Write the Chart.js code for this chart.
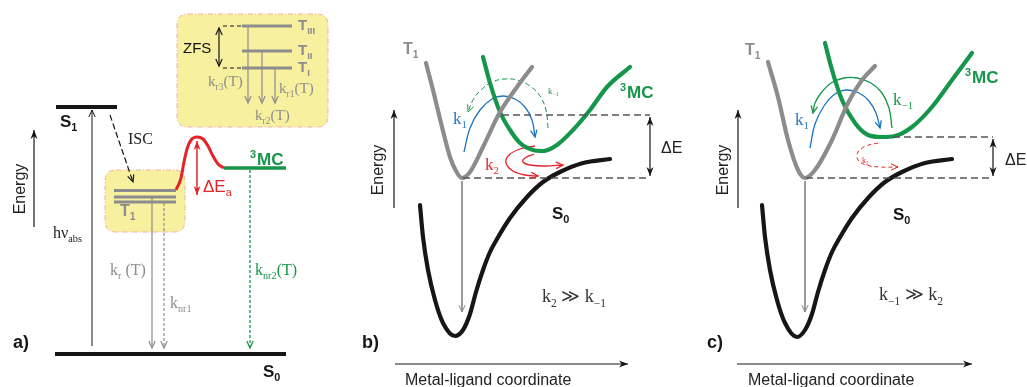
<!DOCTYPE html>
<html>
<head>
<meta charset="utf-8">
<script src="https://cdn.jsdelivr.net/npm/chart.js@4"></script>
<style>
html,body{margin:0;padding:0;background:#fff;}
#wrap{width:1027px;height:387px;position:relative;}
</style>
</head>
<body>
<div id="wrap"><canvas id="c"></canvas></div>
<script>
// ---------- DATA (diagram coordinates: x = position, y = drawing energy axis, top = 0) ----------
// Panel a) Jablonski-type levels
const levelS1 = [[56,107],[117,107]];
const levelS0 = [[55,354],[286,354]];
const levelT1a = [[114,190.5],[176,190.5]];
const levelT1b = [[114,197],[176,197]];
const levelT1c = [[114,202],[176,202]];
const levelTIII = [[242,26],[292,26]];
const levelTII = [[242,51],[292,51]];
const levelTI = [[242,68],[292,68]];
const zfsTop = [[223,26],[242,26]];
const zfsBottom = [[223,68],[242,68]];
const zfsArrow = [[219,28],[219,66]];
const kr3Arrow = [[248,26],[248,103]];
const kr2Arrow = [[262,51],[262,103]];
const kr1Arrow = [[275,68],[275,103]];
const barrierCurve = [[176,190],[181,178],[184,162],[187,149],[191,140],[197,137],[203,139],[208,146],[213,156],[218,164],[224,168]];
const levelMC = [[224,168],[286,168]];
const dEaArrow = [[197,141],[197,195]];
const knr2Arrow = [[250,170],[250,348]];
const absArrow = [[92,346],[92,110]];
const iscArrow = [[110,115],[133,182]];
const krArrow = [[152,198],[152,348]];
const knr1Arrow = [[164,203],[164,348]];
const energyAxisA = [[34,227],[34,130]];

// Panel b) potential curves, k2 >> k-1
const t1CurveB = [[426,63],[433,90],[442,127],[450,157],[456,171],[462,178],[470,172],[483,147],[500,112],[517,87],[532,67]];
const mcCurveB = [[483,57],[490,83],[500,112],[510,130],[520,143],[533,150],[543,151],[557,145],[573,130],[590,110],[607,87],[630,67]];
const s0CurveB = [[420,205],[423,237],[428,270],[435,300],[443,323],[455,336],[463,330],[470,314],[476,292],[483,270],[490,252],[497,239],[510,218],[527,197],[543,182],[560,172],[583,163],[610,159]];
const dEUpperB = [[502,115],[650,115]];
const dELowerB = [[463,178],[650,178]];
const dEArrowB = [[650,117],[650,176]];
const decayB = [[462,181],[462,312]];
const k1ArcB = [[464,152],[470,128],[480,110],[492,99],[503,96],[515,99],[525,107],[532,120],[535,137]];
const km1ArcB = [[548,128],[546,110],[540,96],[530,86],[517,80],[505,79],[492,82],[481,90],[473,100],[468,112]];
const k2LoopB1 = [[535,146],[520,149],[509,155],[506,163],[513,171],[525,175],[538,176]];
const k2LoopB2 = [[534,154],[525,158],[523,162],[530,165],[545,166],[563,165]];
const energyAxisB = [[394,208],[394,110]];
const coordAxisB = [[395,364],[628,364]];

// Panel c) potential curves, k-1 >> k2
const t1CurveC = [[768,62],[778,97],[788,140],[798,170],[805,178],[815,170],[832,140],[848,103],[862,80],[875,66]];
const mcCurveC = [[825,43],[832,70],[842,100],[855,123],[868,135],[882,137],[895,136],[912,127],[932,107],[952,80],[972,53]];
const s0CurveC = [[762,205],[765,237],[770,270],[777,300],[785,323],[797,337],[805,330],[812,314],[818,292],[825,270],[832,252],[839,239],[852,218],[869,197],[885,182],[902,172],[925,163],[952,159]];
const dEUpperC = [[893,137],[993,137]];
const dELowerC = [[806,178],[993,178]];
const dEArrowC = [[993,139],[993,176]];
const decayC = [[805,181],[805,312]];
const k1ArcC = [[810,148],[815,124],[824,106],[835,94],[847,90],[859,93],[869,101],[876,113],[880,128]];
const km1ArcC = [[892,128],[889,108],[882,93],[871,83],[857,78],[844,78],[831,83],[821,93],[815,103],[813,113]];
const k2LoopC = [[878,143],[866,146],[858,152],[858,160],[866,165],[880,167],[898,167]];
const energyAxisC = [[738,208],[738,110]];
const coordAxisC = [[737,364],[972,364]];

// Highlight boxes (corners)
const boxZFS = [[177,14],[328,127]];
const boxT1 = [[105,170],[185,232]];

// ---------- STYLE ----------
const SANS = "'Liberation Sans', Arial, sans-serif";
const SERIF = "'Liberation Serif', 'DejaVu Serif', serif";
const GRAY = '#8c8c8c', BLACK = '#161616', GREEN = '#16964a', RED = '#e5232b', BLUE = '#1d74c2', DGRAY = '#555';

const P = a => a.map(p => ({x:p[0], y:p[1]}));
function ds(arr, o){
  return Object.assign({data:P(arr), showLine:true, fill:false, pointRadius:0, borderWidth:1.2,
    borderColor:BLACK, tension:0, clip:false, borderCapStyle:'butt'}, o||{});
}
const curveStyle = c => ({borderColor:c, borderWidth:4.2, cubicInterpolationMode:'monotone', borderCapStyle:'round', borderJoinStyle:'round'});

const datasets = [
  // panel a
  ds(levelS1,{borderWidth:4.2}),
  ds(levelS0,{borderWidth:4.2}),
  ds(levelT1a,{borderWidth:3,borderColor:GRAY}),
  ds(levelT1b,{borderWidth:3,borderColor:GRAY}),
  ds(levelT1c,{borderWidth:3,borderColor:GRAY}),
  ds(levelTIII,{borderWidth:3,borderColor:GRAY}),
  ds(levelTII,{borderWidth:3,borderColor:GRAY}),
  ds(levelTI,{borderWidth:3,borderColor:GRAY}),
  ds(zfsTop,{borderDash:[4,3]}),
  ds(zfsBottom,{borderDash:[4,3]}),
  ds(zfsArrow,{arrow:'both',head:'open'}),
  ds(kr3Arrow,{borderColor:GRAY,arrow:'end',head:'open'}),
  ds(kr2Arrow,{borderColor:GRAY,arrow:'end',head:'open'}),
  ds(kr1Arrow,{borderColor:GRAY,arrow:'end',head:'open'}),
  ds(barrierCurve,{borderColor:RED,borderWidth:3,cubicInterpolationMode:'monotone'}),
  ds(levelMC,{borderColor:GREEN,borderWidth:3.6}),
  ds(dEaArrow,{borderColor:RED,borderWidth:1.5,arrow:'both',head:'filled'}),
  ds(knr2Arrow,{borderColor:GREEN,borderDash:[3,2],borderWidth:1.3,arrow:'end',head:'open'}),
  ds(absArrow,{borderWidth:1,arrow:'end',head:'open'}),
  ds(iscArrow,{borderDash:[6,3],arrow:'end',head:'open'}),
  ds(krArrow,{borderColor:GRAY,arrow:'end',head:'open'}),
  ds(knr1Arrow,{borderColor:GRAY,borderDash:[3,2],arrow:'end',head:'open'}),
  ds(energyAxisA,{arrow:'end',head:'filled'}),
  // panel b
  ds(dEUpperB,{borderColor:DGRAY,borderWidth:1.5,borderDash:[7,4]}),
  ds(dELowerB,{borderColor:DGRAY,borderWidth:1.5,borderDash:[7,4]}),
  ds(dEArrowB,{arrow:'both',head:'filled'}),
  ds(decayB,{borderColor:GRAY,borderWidth:1,arrow:'end',head:'open'}),
  ds(s0CurveB,curveStyle(BLACK)),
  ds(t1CurveB,curveStyle(GRAY)),
  ds(mcCurveB,curveStyle(GREEN)),
  ds(k1ArcB,{borderColor:BLUE,borderWidth:1.3,tension:0.4,arrow:'end',head:'open'}),
  ds(km1ArcB,{borderColor:GREEN,borderWidth:1,borderDash:[5,3],tension:0.4,arrow:'end',head:'open'}),
  ds(k2LoopB1,{borderColor:RED,borderWidth:1.3,tension:0.4,arrow:'end',head:'open'}),
  ds(k2LoopB2,{borderColor:RED,borderWidth:1.3,tension:0.4,arrow:'end',head:'open'}),
  ds(energyAxisB,{arrow:'end',head:'filled'}),
  ds(coordAxisB,{arrow:'end',head:'filled'}),
  // panel c
  ds(dEUpperC,{borderColor:DGRAY,borderWidth:1.5,borderDash:[7,4]}),
  ds(dELowerC,{borderColor:DGRAY,borderWidth:1.5,borderDash:[7,4]}),
  ds(dEArrowC,{arrow:'both',head:'filled'}),
  ds(decayC,{borderColor:GRAY,borderWidth:1,arrow:'end',head:'open'}),
  ds(s0CurveC,curveStyle(BLACK)),
  ds(t1CurveC,curveStyle(GRAY)),
  ds(mcCurveC,curveStyle(GREEN)),
  ds(k1ArcC,{borderColor:BLUE,borderWidth:1.3,tension:0.4,arrow:'end',head:'open'}),
  ds(km1ArcC,{borderColor:GREEN,borderWidth:1.3,tension:0.4,arrow:'end',head:'open'}),
  ds(k2LoopC,{borderColor:RED,borderWidth:1,borderDash:[4,3],tension:0.4,arrow:'end',head:'open'}),
  ds(energyAxisC,{arrow:'end',head:'filled'}),
  ds(coordAxisC,{arrow:'end',head:'filled'})
];

// Text annotations (anchor = left baseline unless rot)
const texts = [
  {t:'ZFS', x:183, y:53, s:15, f:SANS, c:'#111'},
  {t:'T_{III}', x:298, y:30, s:15, f:SANS, w:'bold', c:GRAY},
  {t:'T_{II}', x:298, y:55, s:15, f:SANS, w:'bold', c:GRAY},
  {t:'T_{I}', x:298, y:72, s:15, f:SANS, w:'bold', c:GRAY},
  {t:'k_{r3}(T)', x:208, y:86, s:15, f:SERIF, c:GRAY},
  {t:'k_{r1}(T)', x:279, y:93, s:15, f:SERIF, c:GRAY},
  {t:'k_{r2}(T)', x:255, y:120, s:15, f:SERIF, c:GRAY},
  {t:'S_{1}', x:60, y:127, s:17, f:SANS, w:'bold', c:BLACK},
  {t:'ISC', x:128, y:144, s:16, f:SERIF, c:'#222'},
  {t:'Energy', x:25, y:189, s:16, f:SANS, c:'#222', rot:true},
  {t:'hν_{abs}', x:53, y:238, s:16, f:SERIF, c:'#222'},
  {t:'k_{r} (T)', x:110, y:275, s:16, f:SERIF, c:GRAY},
  {t:'k_{nr1}', x:170, y:308, s:16, f:SERIF, c:GRAY},
  {t:'ΔE_{a}', x:203, y:192, s:17, f:SANS, c:RED},
  {t:'^{3}MC', x:250, y:165, s:17, f:SANS, w:'bold', c:GREEN},
  {t:'k_{nr2}(T)', x:255, y:275, s:16, f:SERIF, c:GREEN},
  {t:'T_{1}', x:120, y:216, s:16, f:SANS, w:'bold', c:GRAY},
  {t:'S_{0}', x:263, y:377, s:17, f:SANS, w:'bold', c:BLACK},
  {t:'a)', x:13, y:348, s:18, f:SANS, w:'bold', c:BLACK},
  // b
  {t:'T_{1}', x:403, y:54, s:16, f:SANS, w:'bold', c:GRAY},
  {t:'^{3}MC', x:620, y:98, s:17, f:SANS, w:'bold', c:GREEN},
  {t:'ΔE', x:661, y:153, s:16, f:SANS, c:'#222'},
  {t:'k_{1}', x:453, y:124, s:17, f:SERIF, c:BLUE},
  {t:'k_{2}', x:485, y:170, s:17, f:SERIF, c:RED},
  {t:'k_{−1}', x:548, y:94, s:9, f:SERIF, c:GREEN},
  {t:'S_{0}', x:552, y:219, s:17, f:SANS, w:'bold', c:BLACK},
  {t:'k_{2} ≫ k_{−1}', x:542, y:302, s:18, f:SERIF, c:'#333'},
  {t:'b)', x:362, y:348, s:18, f:SANS, w:'bold', c:BLACK},
  {t:'Metal-ligand coordinate', x:405, y:385, s:16, f:SANS, c:'#222'},
  {t:'Energy', x:383, y:170, s:16, f:SANS, c:'#222', rot:true},
  // c
  {t:'T_{1}', x:745, y:55, s:16, f:SANS, w:'bold', c:GRAY},
  {t:'^{3}MC', x:965, y:83, s:17, f:SANS, w:'bold', c:GREEN},
  {t:'ΔE', x:1005, y:165, s:16, f:SANS, c:'#222'},
  {t:'k_{1}', x:795, y:125, s:17, f:SERIF, c:BLUE},
  {t:'k_{−1}', x:893, y:105, s:17, f:SERIF, c:GREEN},
  {t:'k_{2}', x:862, y:163, s:8, f:SERIF, c:RED},
  {t:'S_{0}', x:893, y:220, s:17, f:SANS, w:'bold', c:BLACK},
  {t:'k_{−1} ≫ k_{2}', x:879, y:300, s:18, f:SERIF, c:'#333'},
  {t:'c)', x:707, y:348, s:18, f:SANS, w:'bold', c:BLACK},
  {t:'Metal-ligand coordinate', x:748, y:385, s:16, f:SANS, c:'#222'},
  {t:'Energy', x:728, y:170, s:16, f:SANS, c:'#222', rot:true}
];

function parseRich(s){
  const out=[]; let buf=''; let i=0;
  while(i<s.length){
    const ch=s[i];
    if((ch==='_'||ch==='^') && s[i+1]==='{'){
      if(buf){out.push({t:buf,m:0});buf='';}
      const j=s.indexOf('}',i);
      out.push({t:s.slice(i+2,j), m: ch==='_'?1:2});
      i=j+1;
    } else {buf+=ch;i++;}
  }
  if(buf) out.push({t:buf,m:0});
  return out;
}
function drawRich(ctx, spec, px, py){
  const parts=parseRich(spec.t);
  const w=spec.w||'normal';
  const font = m => `${w} ${m? spec.s*0.64 : spec.s}px ${spec.f}`;
  let total=0;
  parts.forEach(p=>{ctx.font=font(p.m); p.w=ctx.measureText(p.t).width; total+=p.w;});
  ctx.save();
  ctx.fillStyle=spec.c; ctx.textBaseline='alphabetic'; ctx.textAlign='left';
  let x0=0;
  if(spec.rot){ ctx.translate(px,py); ctx.rotate(-Math.PI/2); x0=-total/2; py=0; px=0; }
  let x=px+x0;
  parts.forEach(p=>{
    ctx.font=font(p.m);
    const dy = p.m===1 ? spec.s*0.26 : (p.m===2 ? -spec.s*0.40 : 0);
    ctx.fillText(p.t, x, py+dy);
    x+=p.w + (p.m===2?1:0);
  });
  ctx.restore();
}

function roundRect(ctx,x,y,w,h,r){
  ctx.beginPath();
  ctx.moveTo(x+r,y); ctx.lineTo(x+w-r,y); ctx.quadraticCurveTo(x+w,y,x+w,y+r);
  ctx.lineTo(x+w,y+h-r); ctx.quadraticCurveTo(x+w,y+h,x+w-r,y+h);
  ctx.lineTo(x+r,y+h); ctx.quadraticCurveTo(x,y+h,x,y+h-r);
  ctx.lineTo(x,y+r); ctx.quadraticCurveTo(x,y,x+r,y); ctx.closePath();
}

const diagramPlugin = {
  id:'diagram',
  beforeDatasetsDraw(chart){
    const {ctx, scales:{x:sx, y:sy}} = chart;
    [boxZFS, boxT1].forEach(b=>{
      const x1=sx.getPixelForValue(b[0][0]), y1=sy.getPixelForValue(b[0][1]);
      const x2=sx.getPixelForValue(b[1][0]), y2=sy.getPixelForValue(b[1][1]);
      ctx.save();
      roundRect(ctx,x1,y1,x2-x1,y2-y1,11);
      ctx.fillStyle='#f7f09f'; ctx.fill();
      ctx.setLineDash([5,2,1,2]); ctx.strokeStyle='#efb0a4'; ctx.lineWidth=1; ctx.stroke();
      ctx.restore();
    });
  },
  afterDatasetsDraw(chart){
    const ctx=chart.ctx;
    chart.data.datasets.forEach((d,i)=>{
      if(!d.arrow) return;
      const pts=chart.getDatasetMeta(i).data;
      const n=pts.length;
      const head=(tip, from)=>{
        let dx=tip.x-from.x, dy=tip.y-from.y;
        const L=Math.hypot(dx,dy)||1; dx/=L; dy/=L;
        const len = d.head==='filled' ? 9 : 7;
        const hw = d.head==='filled' ? 3.5 : 3.2;
        const bx=tip.x-dx*len, by=tip.y-dy*len;
        const nx=-dy, ny=dx;
        ctx.save();
        ctx.setLineDash([]);
        ctx.strokeStyle=d.borderColor; ctx.fillStyle=d.borderColor;
        ctx.beginPath();
        if(d.head==='filled'){
          ctx.moveTo(tip.x,tip.y); ctx.lineTo(bx+nx*hw,by+ny*hw);
          ctx.lineTo(tip.x-dx*len*0.7,tip.y-dy*len*0.7);
          ctx.lineTo(bx-nx*hw,by-ny*hw); ctx.closePath(); ctx.fill();
        } else {
          ctx.lineWidth=Math.max(1,d.borderWidth);
          ctx.moveTo(bx+nx*hw,by+ny*hw); ctx.lineTo(tip.x,tip.y); ctx.lineTo(bx-nx*hw,by-ny*hw);
          ctx.stroke();
        }
        ctx.restore();
      };
      const last=pts[n-1], prev=pts[n-2];
      let from=prev;
      if(last.cp1x!==undefined && Math.hypot(last.x-last.cp1x,last.y-last.cp1y)>0.5) from={x:last.cp1x,y:last.cp1y};
      head(last, from);
      if(d.arrow==='both'){
        const first=pts[0], second=pts[1];
        let f2=second;
        if(first.cp2x!==undefined && Math.hypot(first.x-first.cp2x,first.y-first.cp2y)>0.5) f2={x:first.cp2x,y:first.cp2y};
        head(first, f2);
      }
    });
    const {x:sx, y:sy}=chart.scales;
    texts.forEach(tx=> drawRich(ctx, tx, sx.getPixelForValue(tx.x), sy.getPixelForValue(tx.y)));
  }
};

new Chart(document.getElementById('c'), {
  type:'scatter',
  data:{datasets},
  options:{
    responsive:true, maintainAspectRatio:false, animation:false, events:[],
    layout:{padding:0},
    plugins:{legend:{display:false}, tooltip:{enabled:false}},
    scales:{
      x:{type:'linear', min:0, max:1027, display:false},
      y:{type:'linear', min:0, max:387, reverse:true, display:false}
    }
  },
  plugins:[diagramPlugin]
});
</script>
</body>
</html>
